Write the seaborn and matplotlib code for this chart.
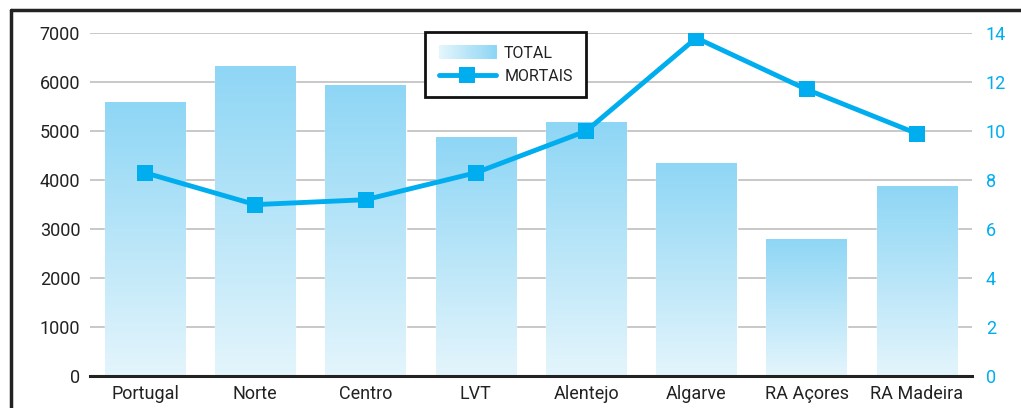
import numpy as np
import pandas as pd
import matplotlib
matplotlib.use("Agg")
import matplotlib.pyplot as plt
import seaborn as sns
from matplotlib.patches import Rectangle
from matplotlib.lines import Line2D
from matplotlib.legend_handler import HandlerBase
from matplotlib.colors import LinearSegmentedColormap

# data
regioes = ['Portugal', 'Norte', 'Centro', 'LVT', 'Alentejo', 'Algarve', 'RA Açores', 'RA Madeira']
total = [5600, 6330, 5940, 4880, 5180, 4350, 2800, 3880]
mortais = [8.3, 7.0, 7.2, 8.3, 10.0, 13.8, 11.7, 9.9]

azul = '#00adef'
topo = '#8ed6f5'
base = '#e4f5fc'
grad = LinearSegmentedColormap.from_list('grad', [base, topo])

sns.set_theme(style='white')
plt.rcParams['font.family'] = ['Roboto', 'DejaVu Sans']

df = pd.DataFrame({'Regiao': regioes, 'Total': total, 'Mortais': mortais})

fig = plt.figure(figsize=(10.21, 4.08), dpi=100)
ax = fig.add_axes([0.088, 0.078, 0.864, 0.841])

sns.barplot(data=df, x='Regiao', y='Total', color=topo, width=0.73, ax=ax, zorder=2)

# gradient fill inside each bar
gimg = np.linspace(0, 1, 256).reshape(-1, 1)
for p in ax.patches:
    x0, y0 = p.get_x(), p.get_y()
    w, h = p.get_width(), p.get_height()
    im = ax.imshow(gimg, cmap=grad, origin='lower', aspect='auto',
                   extent=[x0, x0 + w, y0, y0 + h], zorder=2.1)
    im.set_clip_path(p)

ax.set_xlim(-0.5, 7.5)
ax.set_ylim(0, 7000)
ax.set_yticks(range(0, 7001, 1000))
ax.yaxis.grid(True, color='#c4c4c4', linewidth=1.3)
ax.set_axisbelow(True)
for s in ['left', 'right', 'top']:
    ax.spines[s].set_visible(False)
ax.spines['bottom'].set_color('#222222')
ax.spines['bottom'].set_linewidth(2.2)
ax.set_xlabel('')
ax.set_ylabel('')
ax.tick_params(axis='both', length=0, labelsize=13, labelcolor='#222222')
ax.tick_params(axis='y', pad=7)
ax.tick_params(axis='x', pad=6)

ax2 = ax.twinx()
sns.lineplot(x=np.arange(len(regioes)), y=mortais, ax=ax2, color=azul,
             linewidth=3.5, marker='s', markersize=11.5, markeredgewidth=0)
ax2.set_xlim(-0.5, 7.5)
ax2.set_ylim(0, 14)
ax2.set_yticks(range(0, 15, 2))
ax2.tick_params(axis='y', length=0, labelsize=13, labelcolor=azul, pad=10)
for s in ax2.spines.values():
    s.set_visible(False)
ax2.set_ylabel('')


class GradHandler(HandlerBase):
    def create_artists(self, legend, orig, xd, yd, w, h, fontsize, trans):
        arts = []
        n = 30
        for i in range(n):
            r = Rectangle((xd + w * i / n, yd - 1), w / n + 0.3, h + 2,
                          facecolor=grad(i / (n - 1)), edgecolor='none', transform=trans)
            arts.append(r)
        return arts


h_total = Rectangle((0, 0), 1, 1)
h_mort = Line2D([], [], color=azul, linewidth=3.5, marker='s', markersize=11.5, markeredgewidth=0)
leg = ax2.legend([h_total, h_mort], ['TOTAL', 'MORTAIS'],
                 handler_map={Rectangle: GradHandler()},
                 loc='upper left', bbox_to_anchor=(0.38, 1.003), borderaxespad=0,
                 frameon=True, fancybox=False, edgecolor='#111111', framealpha=1,
                 fontsize=11.5, handlelength=3.6, handletextpad=0.5, borderpad=0.85,
                 labelspacing=0.5)
leg.get_frame().set_linewidth(2)
for t in leg.get_texts():
    t.set_color('#222222')

# outer frame (left and top edges)
fig.add_artist(Line2D([0.0105, 0.0105], [0, 0.975], transform=fig.transFigure,
                      color='#222222', linewidth=2.5))
fig.add_artist(Line2D([0.0105, 1], [0.975, 0.975], transform=fig.transFigure,
                      color='#222222', linewidth=2.5))

fig.savefig('out.png', dpi=100)
